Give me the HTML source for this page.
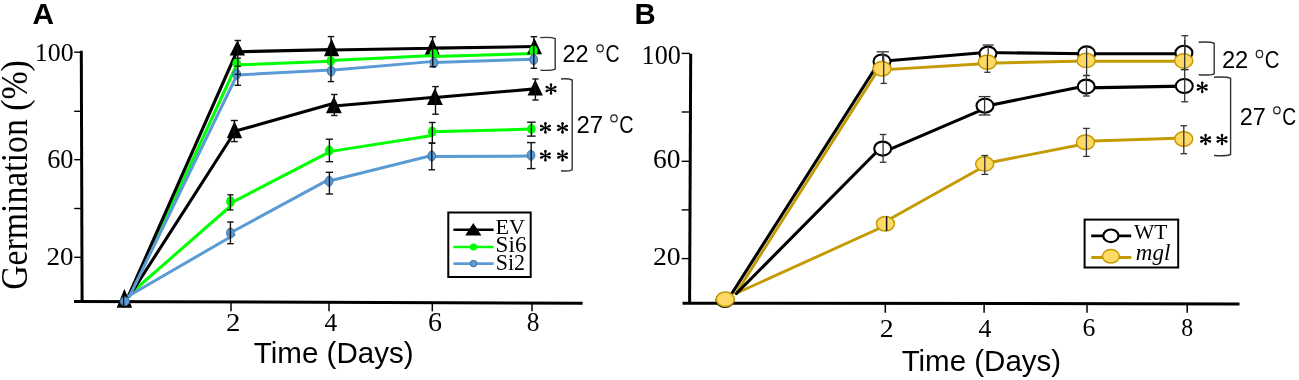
<!DOCTYPE html>
<html><head><meta charset="utf-8"><style>
html,body{margin:0;padding:0;background:#fff;}
body{width:1299px;height:380px;overflow:hidden;}
svg{display:block;will-change:transform;}
</style></head><body>
<svg width="1299" height="380" viewBox="0 0 1299 380">
<rect width="1299" height="380" fill="#fff"/>
<text transform="translate(27,289.75) rotate(-90)" x="0" y="0" font-family="'Liberation Serif', serif" font-size="36.98" textLength="229.61" lengthAdjust="spacingAndGlyphs" fill="#000">Germination (%)</text>
<text x="32.45" y="24.00" font-family="'Liberation Sans', sans-serif" font-size="30.25" font-weight="bold" textLength="21.56" lengthAdjust="spacingAndGlyphs" fill="#000" >A</text>
<line x1="81.3" y1="50.8" x2="82.1" y2="302.5" stroke="#000" stroke-width="3" stroke-linecap="butt"/>
<line x1="74" y1="301.5" x2="582.6" y2="303.2" stroke="#000" stroke-width="3" stroke-linecap="butt"/>
<line x1="74.2" y1="52.2" x2="81" y2="52.2" stroke="#000" stroke-width="1.4" stroke-linecap="butt"/>
<line x1="74.2" y1="111.3" x2="81" y2="111.3" stroke="#000" stroke-width="1.4" stroke-linecap="butt"/>
<line x1="74.2" y1="159.7" x2="81" y2="159.7" stroke="#000" stroke-width="1.4" stroke-linecap="butt"/>
<line x1="74.2" y1="208.5" x2="81" y2="208.5" stroke="#000" stroke-width="1.4" stroke-linecap="butt"/>
<line x1="74.2" y1="257.3" x2="81" y2="257.3" stroke="#000" stroke-width="1.4" stroke-linecap="butt"/>
<line x1="231.0" y1="302.5" x2="231.0" y2="311.3" stroke="#000" stroke-width="1.5" stroke-linecap="butt"/>
<line x1="329.0" y1="302.5" x2="329.0" y2="311.3" stroke="#000" stroke-width="1.5" stroke-linecap="butt"/>
<line x1="432.3" y1="302.5" x2="432.3" y2="311.3" stroke="#000" stroke-width="1.5" stroke-linecap="butt"/>
<line x1="532.0" y1="302.5" x2="532.0" y2="311.3" stroke="#000" stroke-width="1.5" stroke-linecap="butt"/>
<text x="34.84" y="61.20" font-family="'Liberation Serif', serif" font-size="25.56" textLength="38.73" lengthAdjust="spacingAndGlyphs" fill="#000" >100</text>
<text x="47.18" y="167.60" font-family="'Liberation Serif', serif" font-size="26.32" textLength="26.30" lengthAdjust="spacingAndGlyphs" fill="#000" >60</text>
<text x="46.55" y="265.00" font-family="'Liberation Serif', serif" font-size="25.71" textLength="26.96" lengthAdjust="spacingAndGlyphs" fill="#000" >20</text>
<text x="226.08" y="330.90" font-family="'Liberation Serif', serif" font-size="25.96" textLength="14.41" lengthAdjust="spacingAndGlyphs" fill="#000" >2</text>
<text x="324.49" y="330.90" font-family="'Liberation Serif', serif" font-size="26.16" textLength="12.69" lengthAdjust="spacingAndGlyphs" fill="#000" >4</text>
<text x="428.11" y="330.60" font-family="'Liberation Serif', serif" font-size="26.57" textLength="14.04" lengthAdjust="spacingAndGlyphs" fill="#000" >6</text>
<text x="526.85" y="330.60" font-family="'Liberation Serif', serif" font-size="26.47" textLength="12.71" lengthAdjust="spacingAndGlyphs" fill="#000" >8</text>
<text x="253.84" y="363.30" font-family="'Liberation Sans', sans-serif" font-size="29.66" textLength="159.73" lengthAdjust="spacingAndGlyphs" fill="#000" >Time (Days)</text>
<path d="M129.74,296.00 L236.99,64.00 M237.00,65.02 L331.00,61.26 M331.00,60.48 L434.00,55.48 M434.00,56.48 L534.00,53.48 " fill="none" stroke="#00ff00" stroke-width="3" stroke-linecap="round" stroke-linejoin="round"/>
<path d="M127.70,296.00 L232.93,204.00 M230.50,203.22 L329.10,152.09 M329.10,151.64 L432.20,135.49 M432.20,131.87 L531.40,129.02 " fill="none" stroke="#00ff00" stroke-width="3" stroke-linecap="round" stroke-linejoin="round"/>
<path d="M128.51,296.00 L236.85,51.50 M237.50,51.77 L331.60,49.64 M331.60,49.93 L433.00,48.19 M433.00,48.17 L534.50,46.57 " fill="none" stroke="#000" stroke-width="3.1" stroke-linecap="round" stroke-linejoin="round"/>
<path d="M129.46,296.00 L235.32,131.00 M234.50,131.36 L334.00,103.35 M334.00,106.03 L435.00,97.18 M435.00,97.57 L535.00,88.90 " fill="none" stroke="#000" stroke-width="3.1" stroke-linecap="round" stroke-linejoin="round"/>
<path d="M129.61,296.00 L237.26,74.50 M237.00,74.93 L331.00,69.91 M331.00,70.20 L434.00,61.37 M434.00,62.40 L534.00,59.26 " fill="none" stroke="#5b9bd5" stroke-width="3" stroke-linecap="round" stroke-linejoin="round"/>
<path d="M128.55,296.00 L233.85,235.00 M230.50,232.73 L329.10,179.37 M329.10,180.95 L431.70,155.55 M431.70,156.45 L531.00,156.08 " fill="none" stroke="#5b9bd5" stroke-width="3" stroke-linecap="round" stroke-linejoin="round"/>
<polygon points="124.4,288.8 132.1,307.8 116.7,307.8" fill="#000"/>
<polygon points="237.4,40.3 245,55.4 229.7,55.4" fill="#000"/>
<polygon points="331.6,38.6 339.2,56.3 324,56.3" fill="#000"/>
<polygon points="432.4,37.9 439.7,54.5 424.9,54.5" fill="#000"/>
<polygon points="534.3,38.1 542,54.3 527,54.3" fill="#000"/>
<polygon points="234.5,121 242.1,138.2 226.8,138.2" fill="#000"/>
<polygon points="333.9,96.2 341.8,113.3 326,113.3" fill="#000"/>
<polygon points="434.9,87.9 442.8,105 427,105" fill="#000"/>
<polygon points="535.2,79.5 542.9,95.6 527.6,95.6" fill="#000"/>
<ellipse cx="236.7" cy="63.3" rx="4.3" ry="5.1" fill="#00ff00" stroke="none" stroke-width="0"/>
<ellipse cx="330.7" cy="61" rx="4.3" ry="5.1" fill="#00ff00" stroke="none" stroke-width="0"/>
<ellipse cx="433.8" cy="54" rx="4.3" ry="5.1" fill="#00ff00" stroke="none" stroke-width="0"/>
<ellipse cx="533.5" cy="50.7" rx="4.3" ry="5.1" fill="#00ff00" stroke="none" stroke-width="0"/>
<ellipse cx="230.4" cy="201.3" rx="4.3" ry="5.1" fill="#00ff00" stroke="none" stroke-width="0"/>
<ellipse cx="329.2" cy="150.7" rx="4.3" ry="5.1" fill="#00ff00" stroke="none" stroke-width="0"/>
<ellipse cx="432.2" cy="131.7" rx="4.3" ry="5.1" fill="#00ff00" stroke="none" stroke-width="0"/>
<ellipse cx="531.4" cy="129" rx="4.3" ry="5.1" fill="#00ff00" stroke="none" stroke-width="0"/>
<ellipse cx="236.7" cy="74.2" rx="3.9" ry="5.0" fill="#5b9bd5" stroke="#41719c" stroke-width="0.9"/>
<ellipse cx="331.2" cy="71" rx="3.9" ry="5.0" fill="#5b9bd5" stroke="#41719c" stroke-width="0.9"/>
<ellipse cx="434" cy="62.7" rx="3.9" ry="5.0" fill="#5b9bd5" stroke="#41719c" stroke-width="0.9"/>
<ellipse cx="533.7" cy="59.6" rx="3.9" ry="5.0" fill="#5b9bd5" stroke="#41719c" stroke-width="0.9"/>
<ellipse cx="230.4" cy="233" rx="3.9" ry="5.0" fill="#5b9bd5" stroke="#41719c" stroke-width="0.9"/>
<ellipse cx="329.1" cy="181.2" rx="3.9" ry="5.0" fill="#5b9bd5" stroke="#41719c" stroke-width="0.9"/>
<ellipse cx="431.7" cy="156" rx="3.9" ry="5.0" fill="#5b9bd5" stroke="#41719c" stroke-width="0.9"/>
<ellipse cx="531" cy="155.2" rx="3.9" ry="5.0" fill="#5b9bd5" stroke="#41719c" stroke-width="0.9"/>
<ellipse cx="124.8" cy="301.3" rx="4.6" ry="4.4" fill="#5b9bd5" stroke="#41719c" stroke-width="0.9"/>
<line x1="123.6" y1="296" x2="123.6" y2="308" stroke="#111" stroke-width="1.4" stroke-linecap="butt"/>
<line x1="237.8" y1="40.5" x2="237.8" y2="85.3" stroke="#111" stroke-width="1.4" stroke-linecap="butt"/>
<line x1="234.55" y1="40.5" x2="241.05" y2="40.5" stroke="#111" stroke-width="1.4" stroke-linecap="butt"/>
<line x1="234.55" y1="85.3" x2="241.05" y2="85.3" stroke="#111" stroke-width="1.4" stroke-linecap="butt"/>
<line x1="234.7" y1="58.2" x2="240.9" y2="58.2" stroke="#1a1a1a" stroke-width="1.4" stroke-linecap="butt"/>
<line x1="234.7" y1="66.3" x2="240.9" y2="66.3" stroke="#1a1a1a" stroke-width="1.4" stroke-linecap="butt"/>
<line x1="234.7" y1="74.4" x2="240.9" y2="74.4" stroke="#1a1a1a" stroke-width="1.4" stroke-linecap="butt"/>
<line x1="331" y1="36.6" x2="331" y2="81.6" stroke="#111" stroke-width="1.4" stroke-linecap="butt"/>
<line x1="327.75" y1="36.6" x2="334.25" y2="36.6" stroke="#111" stroke-width="1.4" stroke-linecap="butt"/>
<line x1="327.75" y1="81.6" x2="334.25" y2="81.6" stroke="#111" stroke-width="1.4" stroke-linecap="butt"/>
<line x1="432.7" y1="36.8" x2="432.7" y2="66.7" stroke="#111" stroke-width="1.4" stroke-linecap="butt"/>
<line x1="429.45" y1="36.8" x2="435.95" y2="36.8" stroke="#111" stroke-width="1.4" stroke-linecap="butt"/>
<line x1="429.45" y1="66.7" x2="435.95" y2="66.7" stroke="#111" stroke-width="1.4" stroke-linecap="butt"/>
<line x1="533.8" y1="36.7" x2="533.8" y2="68.3" stroke="#111" stroke-width="1.4" stroke-linecap="butt"/>
<line x1="530.55" y1="36.7" x2="537.05" y2="36.7" stroke="#111" stroke-width="1.4" stroke-linecap="butt"/>
<line x1="530.55" y1="68.3" x2="537.05" y2="68.3" stroke="#111" stroke-width="1.4" stroke-linecap="butt"/>
<line x1="234.3" y1="120.5" x2="234.3" y2="141.6" stroke="#111" stroke-width="1.4" stroke-linecap="butt"/>
<line x1="230.8" y1="120.5" x2="237.8" y2="120.5" stroke="#111" stroke-width="1.4" stroke-linecap="butt"/>
<line x1="230.8" y1="141.6" x2="237.8" y2="141.6" stroke="#111" stroke-width="1.4" stroke-linecap="butt"/>
<line x1="334.3" y1="94.5" x2="334.3" y2="115.5" stroke="#111" stroke-width="1.4" stroke-linecap="butt"/>
<line x1="331.05" y1="94.5" x2="337.55" y2="94.5" stroke="#111" stroke-width="1.4" stroke-linecap="butt"/>
<line x1="331.05" y1="115.5" x2="337.55" y2="115.5" stroke="#111" stroke-width="1.4" stroke-linecap="butt"/>
<line x1="435.5" y1="86.6" x2="435.5" y2="114.2" stroke="#111" stroke-width="1.4" stroke-linecap="butt"/>
<line x1="432.25" y1="86.6" x2="438.75" y2="86.6" stroke="#111" stroke-width="1.4" stroke-linecap="butt"/>
<line x1="432.25" y1="114.2" x2="438.75" y2="114.2" stroke="#111" stroke-width="1.4" stroke-linecap="butt"/>
<line x1="535.4" y1="79" x2="535.4" y2="100" stroke="#111" stroke-width="1.4" stroke-linecap="butt"/>
<line x1="532.25" y1="79" x2="538.55" y2="79" stroke="#111" stroke-width="1.4" stroke-linecap="butt"/>
<line x1="532.25" y1="100" x2="538.55" y2="100" stroke="#111" stroke-width="1.4" stroke-linecap="butt"/>
<line x1="230.4" y1="194.8" x2="230.4" y2="209.9" stroke="#111" stroke-width="1.4" stroke-linecap="butt"/>
<line x1="227.4" y1="194.8" x2="233.4" y2="194.8" stroke="#111" stroke-width="1.4" stroke-linecap="butt"/>
<line x1="227.4" y1="209.9" x2="233.4" y2="209.9" stroke="#111" stroke-width="1.4" stroke-linecap="butt"/>
<line x1="230.4" y1="222" x2="230.4" y2="243.7" stroke="#111" stroke-width="1.4" stroke-linecap="butt"/>
<line x1="227.15" y1="222" x2="233.65" y2="222" stroke="#111" stroke-width="1.4" stroke-linecap="butt"/>
<line x1="227.15" y1="243.7" x2="233.65" y2="243.7" stroke="#111" stroke-width="1.4" stroke-linecap="butt"/>
<line x1="329.4" y1="139.2" x2="329.4" y2="161.7" stroke="#111" stroke-width="1.4" stroke-linecap="butt"/>
<line x1="325.75" y1="139.2" x2="333.04999999999995" y2="139.2" stroke="#111" stroke-width="1.4" stroke-linecap="butt"/>
<line x1="325.75" y1="161.7" x2="333.04999999999995" y2="161.7" stroke="#111" stroke-width="1.4" stroke-linecap="butt"/>
<line x1="329.4" y1="172.3" x2="329.4" y2="194" stroke="#111" stroke-width="1.4" stroke-linecap="butt"/>
<line x1="325.75" y1="172.3" x2="333.04999999999995" y2="172.3" stroke="#111" stroke-width="1.4" stroke-linecap="butt"/>
<line x1="325.75" y1="194" x2="333.04999999999995" y2="194" stroke="#111" stroke-width="1.4" stroke-linecap="butt"/>
<line x1="432.3" y1="122.5" x2="432.3" y2="143.1" stroke="#111" stroke-width="1.4" stroke-linecap="butt"/>
<line x1="429.05" y1="122.5" x2="435.55" y2="122.5" stroke="#111" stroke-width="1.4" stroke-linecap="butt"/>
<line x1="429.05" y1="143.1" x2="435.55" y2="143.1" stroke="#111" stroke-width="1.4" stroke-linecap="butt"/>
<line x1="431.8" y1="143.1" x2="431.8" y2="169.8" stroke="#111" stroke-width="1.4" stroke-linecap="butt"/>
<line x1="428.55" y1="143.1" x2="435.05" y2="143.1" stroke="#111" stroke-width="1.4" stroke-linecap="butt"/>
<line x1="428.55" y1="169.8" x2="435.05" y2="169.8" stroke="#111" stroke-width="1.4" stroke-linecap="butt"/>
<line x1="531.4" y1="122.2" x2="531.4" y2="136.1" stroke="#111" stroke-width="1.4" stroke-linecap="butt"/>
<line x1="527.15" y1="122.2" x2="535.65" y2="122.2" stroke="#111" stroke-width="1.4" stroke-linecap="butt"/>
<line x1="527.15" y1="136.1" x2="535.65" y2="136.1" stroke="#111" stroke-width="1.4" stroke-linecap="butt"/>
<line x1="531.2" y1="142.6" x2="531.2" y2="168.6" stroke="#111" stroke-width="1.4" stroke-linecap="butt"/>
<line x1="526.95" y1="142.6" x2="535.45" y2="142.6" stroke="#111" stroke-width="1.4" stroke-linecap="butt"/>
<line x1="526.95" y1="168.6" x2="535.45" y2="168.6" stroke="#111" stroke-width="1.4" stroke-linecap="butt"/>
<path d="M540.3,37.6 Q551.2,36.800000000000004 555.2,38.6 L555.2,69.1 Q551.2,70.89999999999999 540.3,70.1" fill="none" stroke="#333" stroke-width="1.4"/>
<path d="M561,79 Q568.2,78.2 572.2,80 L572.2,169.8 Q568.2,171.60000000000002 561,170.8" fill="none" stroke="#333" stroke-width="1.4"/>
<circle cx="551.00" cy="84.40" r="1.20" fill="#000"/>
<circle cx="551.00" cy="93.60" r="1.20" fill="#000"/>
<circle cx="555.30" cy="86.99" r="1.20" fill="#000"/>
<circle cx="546.70" cy="86.99" r="1.20" fill="#000"/>
<circle cx="555.30" cy="91.01" r="1.20" fill="#000"/>
<circle cx="546.70" cy="91.01" r="1.20" fill="#000"/>
<path d="M550.55,89.00 L549.80,84.40 L552.20,84.40 L551.45,89.00Z M551.45,89.00 L552.20,93.60 L549.80,93.60 L550.55,89.00Z M550.81,88.59 L554.80,85.90 L555.81,88.08 L551.19,89.41Z M550.81,89.41 L546.19,88.08 L547.20,85.90 L551.19,88.59Z M551.19,88.59 L555.81,89.92 L554.80,92.10 L550.81,89.41Z M551.19,89.41 L547.20,92.10 L546.19,89.92 L550.81,88.59Z " fill="#000"/>
<circle cx="551" cy="89" r="0.90" fill="#000"/>
<circle cx="545.40" cy="123.30" r="1.20" fill="#000"/>
<circle cx="545.40" cy="132.50" r="1.20" fill="#000"/>
<circle cx="549.70" cy="125.89" r="1.20" fill="#000"/>
<circle cx="541.10" cy="125.89" r="1.20" fill="#000"/>
<circle cx="549.70" cy="129.91" r="1.20" fill="#000"/>
<circle cx="541.10" cy="129.91" r="1.20" fill="#000"/>
<path d="M544.95,127.90 L544.20,123.30 L546.60,123.30 L545.85,127.90Z M545.85,127.90 L546.60,132.50 L544.20,132.50 L544.95,127.90Z M545.21,127.49 L549.20,124.80 L550.21,126.98 L545.59,128.31Z M545.21,128.31 L540.59,126.98 L541.60,124.80 L545.59,127.49Z M545.59,127.49 L550.21,128.82 L549.20,131.00 L545.21,128.31Z M545.59,128.31 L541.60,131.00 L540.59,128.82 L545.21,127.49Z " fill="#000"/>
<circle cx="545.4" cy="127.9" r="0.90" fill="#000"/>
<circle cx="562.50" cy="123.30" r="1.20" fill="#000"/>
<circle cx="562.50" cy="132.50" r="1.20" fill="#000"/>
<circle cx="566.80" cy="125.89" r="1.20" fill="#000"/>
<circle cx="558.20" cy="125.89" r="1.20" fill="#000"/>
<circle cx="566.80" cy="129.91" r="1.20" fill="#000"/>
<circle cx="558.20" cy="129.91" r="1.20" fill="#000"/>
<path d="M562.05,127.90 L561.30,123.30 L563.70,123.30 L562.95,127.90Z M562.95,127.90 L563.70,132.50 L561.30,132.50 L562.05,127.90Z M562.31,127.49 L566.30,124.80 L567.31,126.98 L562.69,128.31Z M562.31,128.31 L557.69,126.98 L558.70,124.80 L562.69,127.49Z M562.69,127.49 L567.31,128.82 L566.30,131.00 L562.31,128.31Z M562.69,128.31 L558.70,131.00 L557.69,128.82 L562.31,127.49Z " fill="#000"/>
<circle cx="562.5" cy="127.9" r="0.90" fill="#000"/>
<circle cx="545.40" cy="151.00" r="1.20" fill="#000"/>
<circle cx="545.40" cy="160.20" r="1.20" fill="#000"/>
<circle cx="549.70" cy="153.59" r="1.20" fill="#000"/>
<circle cx="541.10" cy="153.59" r="1.20" fill="#000"/>
<circle cx="549.70" cy="157.61" r="1.20" fill="#000"/>
<circle cx="541.10" cy="157.61" r="1.20" fill="#000"/>
<path d="M544.95,155.60 L544.20,151.00 L546.60,151.00 L545.85,155.60Z M545.85,155.60 L546.60,160.20 L544.20,160.20 L544.95,155.60Z M545.21,155.19 L549.20,152.50 L550.21,154.68 L545.59,156.01Z M545.21,156.01 L540.59,154.68 L541.60,152.50 L545.59,155.19Z M545.59,155.19 L550.21,156.52 L549.20,158.70 L545.21,156.01Z M545.59,156.01 L541.60,158.70 L540.59,156.52 L545.21,155.19Z " fill="#000"/>
<circle cx="545.4" cy="155.6" r="0.90" fill="#000"/>
<circle cx="562.50" cy="151.00" r="1.20" fill="#000"/>
<circle cx="562.50" cy="160.20" r="1.20" fill="#000"/>
<circle cx="566.80" cy="153.59" r="1.20" fill="#000"/>
<circle cx="558.20" cy="153.59" r="1.20" fill="#000"/>
<circle cx="566.80" cy="157.61" r="1.20" fill="#000"/>
<circle cx="558.20" cy="157.61" r="1.20" fill="#000"/>
<path d="M562.05,155.60 L561.30,151.00 L563.70,151.00 L562.95,155.60Z M562.95,155.60 L563.70,160.20 L561.30,160.20 L562.05,155.60Z M562.31,155.19 L566.30,152.50 L567.31,154.68 L562.69,156.01Z M562.31,156.01 L557.69,154.68 L558.70,152.50 L562.69,155.19Z M562.69,155.19 L567.31,156.52 L566.30,158.70 L562.31,156.01Z M562.69,156.01 L558.70,158.70 L557.69,156.52 L562.31,155.19Z " fill="#000"/>
<circle cx="562.5" cy="155.6" r="0.90" fill="#000"/>
<rect x="448.3" y="212.5" width="82.4" height="64.5" fill="#fff" stroke="#000" stroke-width="2"/>
<line x1="453.4" y1="229.7" x2="493.6" y2="229.7" stroke="#000" stroke-width="2.6" stroke-linecap="butt"/>
<polygon points="473.3,223.1 481.4,235.6 465.2,235.6" fill="#000"/>
<line x1="453.4" y1="247" x2="493.6" y2="247" stroke="#00ff00" stroke-width="2.6" stroke-linecap="butt"/>
<ellipse cx="473.5" cy="247" rx="3.6" ry="3.6" fill="#00ff00" stroke="none" stroke-width="0"/>
<line x1="453.4" y1="263.6" x2="493.6" y2="263.6" stroke="#5b9bd5" stroke-width="2.6" stroke-linecap="butt"/>
<ellipse cx="473.5" cy="263.6" rx="3.3" ry="3.3" fill="#5b9bd5" stroke="#41719c" stroke-width="1"/>
<text x="495.59" y="233.60" font-family="'Liberation Serif', serif" font-size="21.98" textLength="29.50" lengthAdjust="spacingAndGlyphs" fill="#000" >EV</text>
<text x="495.64" y="252.20" font-family="'Liberation Serif', serif" font-size="22.19" textLength="30.83" lengthAdjust="spacingAndGlyphs" fill="#000" >Si6</text>
<text x="495.72" y="270.00" font-family="'Liberation Serif', serif" font-size="22.19" textLength="29.27" lengthAdjust="spacingAndGlyphs" fill="#000" >Si2</text>
<text x="634.52" y="24.00" font-family="'Liberation Sans', sans-serif" font-size="29.96" font-weight="bold" textLength="21.19" lengthAdjust="spacingAndGlyphs" fill="#000" >B</text>
<line x1="690.7" y1="53.8" x2="689.6" y2="303" stroke="#000" stroke-width="3" stroke-linecap="butt"/>
<line x1="682.5" y1="303.2" x2="1239.5" y2="303.9" stroke="#000" stroke-width="3" stroke-linecap="butt"/>
<line x1="681.7" y1="53.4" x2="690" y2="53.4" stroke="#000" stroke-width="1.4" stroke-linecap="butt"/>
<line x1="681.7" y1="112" x2="690" y2="112" stroke="#000" stroke-width="1.4" stroke-linecap="butt"/>
<line x1="681.7" y1="161.3" x2="690" y2="161.3" stroke="#000" stroke-width="1.4" stroke-linecap="butt"/>
<line x1="681.7" y1="209.9" x2="690" y2="209.9" stroke="#000" stroke-width="1.4" stroke-linecap="butt"/>
<line x1="681.7" y1="258.6" x2="690" y2="258.6" stroke="#000" stroke-width="1.4" stroke-linecap="butt"/>
<line x1="885.3" y1="304" x2="885.3" y2="312.8" stroke="#000" stroke-width="1.5" stroke-linecap="butt"/>
<line x1="984.1" y1="304" x2="984.1" y2="312.8" stroke="#000" stroke-width="1.5" stroke-linecap="butt"/>
<line x1="1087" y1="304" x2="1087" y2="312.8" stroke="#000" stroke-width="1.5" stroke-linecap="butt"/>
<line x1="1187.2" y1="304" x2="1187.2" y2="312.8" stroke="#000" stroke-width="1.5" stroke-linecap="butt"/>
<text x="641.61" y="63.50" font-family="'Liberation Serif', serif" font-size="26.47" textLength="39.27" lengthAdjust="spacingAndGlyphs" fill="#000" >100</text>
<text x="653.13" y="168.40" font-family="'Liberation Serif', serif" font-size="26.32" textLength="27.50" lengthAdjust="spacingAndGlyphs" fill="#000" >60</text>
<text x="652.92" y="265.00" font-family="'Liberation Serif', serif" font-size="25.71" textLength="27.72" lengthAdjust="spacingAndGlyphs" fill="#000" >20</text>
<text x="879.82" y="336.70" font-family="'Liberation Serif', serif" font-size="24.75" textLength="13.91" lengthAdjust="spacingAndGlyphs" fill="#000" >2</text>
<text x="978.48" y="336.70" font-family="'Liberation Serif', serif" font-size="24.94" textLength="12.90" lengthAdjust="spacingAndGlyphs" fill="#000" >4</text>
<text x="1082.51" y="336.20" font-family="'Liberation Serif', serif" font-size="24.75" textLength="12.87" lengthAdjust="spacingAndGlyphs" fill="#000" >6</text>
<text x="1181.31" y="336.20" font-family="'Liberation Serif', serif" font-size="24.66" textLength="11.88" lengthAdjust="spacingAndGlyphs" fill="#000" >8</text>
<text x="901.64" y="371.20" font-family="'Liberation Sans', sans-serif" font-size="30.34" textLength="159.53" lengthAdjust="spacingAndGlyphs" fill="#000" >Time (Days)</text>
<path d="M735.85,293.50 L878.07,70.00 M882.00,69.88 L987.30,63.56 M987.30,63.22 L1086.00,61.00 M1086.00,61.20 L1184.00,61.20 " fill="none" stroke="#c49a02" stroke-width="2.9" stroke-linecap="round" stroke-linejoin="round"/>
<path d="M735.81,293.50 L889.56,223.80 M885.40,221.58 L984.70,165.97 M984.70,163.49 L1085.40,143.79 M1085.40,141.30 L1183.70,137.93 " fill="none" stroke="#c49a02" stroke-width="2.9" stroke-linecap="round" stroke-linejoin="round"/>
<path d="M731.85,293.50 L879.48,61.50 M882.00,61.31 L988.00,52.29 M988.00,52.56 L1086.50,53.79 M1086.50,53.80 L1184.00,53.80 " fill="none" stroke="#000" stroke-width="3.1" stroke-linecap="round" stroke-linejoin="round"/>
<path d="M736.44,293.50 L880.50,148.00 M882.70,152.38 L985.30,108.43 M985.30,106.17 L1086.20,85.80 M1086.20,87.84 L1184.30,86.14 " fill="none" stroke="#000" stroke-width="3.1" stroke-linecap="round" stroke-linejoin="round"/>
<ellipse cx="725" cy="300" rx="8.5" ry="7.0" fill="#fff" stroke="#000" stroke-width="2.1"/>
<ellipse cx="882" cy="61.5" rx="8.5" ry="7.0" fill="#fff" stroke="#000" stroke-width="2.1"/>
<ellipse cx="987.9" cy="53.6" rx="8.5" ry="7.0" fill="#fff" stroke="#000" stroke-width="2.1"/>
<ellipse cx="1086.6" cy="53.4" rx="8.5" ry="7.0" fill="#fff" stroke="#000" stroke-width="2.1"/>
<ellipse cx="1183.9" cy="52.8" rx="8.5" ry="7.0" fill="#fff" stroke="#000" stroke-width="2.1"/>
<ellipse cx="882.7" cy="148.6" rx="8.5" ry="7.0" fill="#fff" stroke="#000" stroke-width="2.1"/>
<ellipse cx="985" cy="105.7" rx="8.5" ry="7.0" fill="#fff" stroke="#000" stroke-width="2.1"/>
<ellipse cx="1086.2" cy="86.6" rx="8.5" ry="7.0" fill="#fff" stroke="#000" stroke-width="2.1"/>
<ellipse cx="1184.3" cy="86" rx="8.5" ry="7.0" fill="#fff" stroke="#000" stroke-width="2.1"/>
<line x1="882.7" y1="51.8" x2="882.7" y2="70" stroke="#333" stroke-width="1.3" stroke-linecap="butt"/>
<line x1="876.5500000000001" y1="51.8" x2="888.85" y2="51.8" stroke="#333" stroke-width="1.3" stroke-linecap="butt"/>
<line x1="988.2" y1="45" x2="988.2" y2="62" stroke="#333" stroke-width="1.3" stroke-linecap="butt"/>
<line x1="982.7" y1="45" x2="993.7" y2="45" stroke="#333" stroke-width="1.3" stroke-linecap="butt"/>
<line x1="1184.9" y1="35.7" x2="1184.9" y2="60" stroke="#333" stroke-width="1.3" stroke-linecap="butt"/>
<line x1="1181.5500000000002" y1="35.7" x2="1188.25" y2="35.7" stroke="#333" stroke-width="1.3" stroke-linecap="butt"/>
<ellipse cx="725.3" cy="299.3" rx="9.0" ry="7.2" fill="#ffd966" stroke="#c49a02" stroke-width="1.5"/>
<ellipse cx="882" cy="68.7" rx="9.0" ry="7.2" fill="#ffd966" stroke="#c49a02" stroke-width="1.5"/>
<ellipse cx="987.3" cy="62.1" rx="9.0" ry="7.2" fill="#ffd966" stroke="#c49a02" stroke-width="1.5"/>
<ellipse cx="1086.2" cy="60.4" rx="9.0" ry="7.2" fill="#ffd966" stroke="#c49a02" stroke-width="1.5"/>
<ellipse cx="1183.7" cy="60.9" rx="9.0" ry="7.2" fill="#ffd966" stroke="#c49a02" stroke-width="1.5"/>
<ellipse cx="885.4" cy="223.8" rx="9.0" ry="7.2" fill="#ffd966" stroke="#c49a02" stroke-width="1.5"/>
<ellipse cx="984.7" cy="163.9" rx="9.0" ry="7.2" fill="#ffd966" stroke="#c49a02" stroke-width="1.5"/>
<ellipse cx="1085.5" cy="142.2" rx="9.0" ry="7.2" fill="#ffd966" stroke="#c49a02" stroke-width="1.5"/>
<ellipse cx="1183.7" cy="139" rx="9.0" ry="7.2" fill="#ffd966" stroke="#c49a02" stroke-width="1.5"/>
<line x1="883.7" y1="55" x2="883.7" y2="83.4" stroke="#333" stroke-width="1.3" stroke-linecap="butt"/>
<line x1="880.5500000000001" y1="55" x2="886.85" y2="55" stroke="#333" stroke-width="1.3" stroke-linecap="butt"/>
<line x1="880.5500000000001" y1="83.4" x2="886.85" y2="83.4" stroke="#333" stroke-width="1.3" stroke-linecap="butt"/>
<line x1="987.4" y1="55" x2="987.4" y2="72.3" stroke="#333" stroke-width="1.3" stroke-linecap="butt"/>
<line x1="984.4" y1="72.3" x2="990.4" y2="72.3" stroke="#333" stroke-width="1.3" stroke-linecap="butt"/>
<line x1="1086.6" y1="46" x2="1086.6" y2="75.5" stroke="#333" stroke-width="1.3" stroke-linecap="butt"/>
<line x1="1083.25" y1="75.5" x2="1089.9499999999998" y2="75.5" stroke="#333" stroke-width="1.3" stroke-linecap="butt"/>
<line x1="1184.7" y1="40" x2="1184.7" y2="69.6" stroke="#333" stroke-width="1.3" stroke-linecap="butt"/>
<line x1="1180.7" y1="69.6" x2="1188.7" y2="69.6" stroke="#333" stroke-width="1.3" stroke-linecap="butt"/>
<line x1="883.1" y1="134.5" x2="883.1" y2="162.3" stroke="#333" stroke-width="1.3" stroke-linecap="butt"/>
<line x1="879.8000000000001" y1="134.5" x2="886.4" y2="134.5" stroke="#333" stroke-width="1.3" stroke-linecap="butt"/>
<line x1="879.8000000000001" y1="162.3" x2="886.4" y2="162.3" stroke="#333" stroke-width="1.3" stroke-linecap="butt"/>
<line x1="984.6" y1="96.6" x2="984.6" y2="115" stroke="#333" stroke-width="1.3" stroke-linecap="butt"/>
<line x1="978.7" y1="96.6" x2="990.5" y2="96.6" stroke="#333" stroke-width="1.3" stroke-linecap="butt"/>
<line x1="978.7" y1="115" x2="990.5" y2="115" stroke="#333" stroke-width="1.3" stroke-linecap="butt"/>
<line x1="1086.4" y1="75.5" x2="1086.4" y2="96" stroke="#333" stroke-width="1.3" stroke-linecap="butt"/>
<line x1="1083.0500000000002" y1="75.5" x2="1089.75" y2="75.5" stroke="#333" stroke-width="1.3" stroke-linecap="butt"/>
<line x1="1083.0500000000002" y1="96" x2="1089.75" y2="96" stroke="#333" stroke-width="1.3" stroke-linecap="butt"/>
<line x1="1184.7" y1="69.5" x2="1184.7" y2="101.8" stroke="#333" stroke-width="1.3" stroke-linecap="butt"/>
<line x1="1181.2" y1="69.5" x2="1188.2" y2="69.5" stroke="#333" stroke-width="1.3" stroke-linecap="butt"/>
<line x1="1181.2" y1="101.8" x2="1188.2" y2="101.8" stroke="#333" stroke-width="1.3" stroke-linecap="butt"/>
<line x1="886.6" y1="216.3" x2="886.6" y2="231" stroke="#111" stroke-width="1.5" stroke-linecap="butt"/>
<line x1="984.8" y1="155.5" x2="984.8" y2="174.4" stroke="#333" stroke-width="1.3" stroke-linecap="butt"/>
<line x1="981.4499999999999" y1="155.5" x2="988.15" y2="155.5" stroke="#333" stroke-width="1.3" stroke-linecap="butt"/>
<line x1="981.4499999999999" y1="174.4" x2="988.15" y2="174.4" stroke="#333" stroke-width="1.3" stroke-linecap="butt"/>
<line x1="1086.4" y1="128.4" x2="1086.4" y2="156.4" stroke="#333" stroke-width="1.3" stroke-linecap="butt"/>
<line x1="1083.1000000000001" y1="128.4" x2="1089.7" y2="128.4" stroke="#333" stroke-width="1.3" stroke-linecap="butt"/>
<line x1="1083.1000000000001" y1="156.4" x2="1089.7" y2="156.4" stroke="#333" stroke-width="1.3" stroke-linecap="butt"/>
<line x1="1183.8" y1="125.8" x2="1183.8" y2="153.7" stroke="#333" stroke-width="1.3" stroke-linecap="butt"/>
<line x1="1180.5" y1="125.8" x2="1187.1" y2="125.8" stroke="#333" stroke-width="1.3" stroke-linecap="butt"/>
<line x1="1180.5" y1="153.7" x2="1187.1" y2="153.7" stroke="#333" stroke-width="1.3" stroke-linecap="butt"/>
<path d="M1198.7,42.3 Q1210.2,41.5 1214.2,43.3 L1214.2,73.8 Q1210.2,75.6 1198.7,74.8" fill="none" stroke="#333" stroke-width="1.4"/>
<path d="M1214,77.3 Q1226.6,76.5 1230.6,78.3 L1230.6,154.5 Q1226.6,156.3 1214,155.5" fill="none" stroke="#333" stroke-width="1.4"/>
<circle cx="1202.20" cy="82.80" r="1.20" fill="#000"/>
<circle cx="1202.20" cy="92.00" r="1.20" fill="#000"/>
<circle cx="1206.50" cy="85.39" r="1.20" fill="#000"/>
<circle cx="1197.90" cy="85.39" r="1.20" fill="#000"/>
<circle cx="1206.50" cy="89.41" r="1.20" fill="#000"/>
<circle cx="1197.90" cy="89.41" r="1.20" fill="#000"/>
<path d="M1201.75,87.40 L1201.00,82.80 L1203.40,82.80 L1202.65,87.40Z M1202.65,87.40 L1203.40,92.00 L1201.00,92.00 L1201.75,87.40Z M1202.01,86.99 L1206.00,84.30 L1207.01,86.48 L1202.39,87.81Z M1202.01,87.81 L1197.39,86.48 L1198.40,84.30 L1202.39,86.99Z M1202.39,86.99 L1207.01,88.32 L1206.00,90.50 L1202.01,87.81Z M1202.39,87.81 L1198.40,90.50 L1197.39,88.32 L1202.01,86.99Z " fill="#000"/>
<circle cx="1202.2" cy="87.4" r="0.90" fill="#000"/>
<circle cx="1205.60" cy="134.90" r="1.20" fill="#000"/>
<circle cx="1205.60" cy="144.10" r="1.20" fill="#000"/>
<circle cx="1209.90" cy="137.49" r="1.20" fill="#000"/>
<circle cx="1201.30" cy="137.49" r="1.20" fill="#000"/>
<circle cx="1209.90" cy="141.51" r="1.20" fill="#000"/>
<circle cx="1201.30" cy="141.51" r="1.20" fill="#000"/>
<path d="M1205.15,139.50 L1204.40,134.90 L1206.80,134.90 L1206.05,139.50Z M1206.05,139.50 L1206.80,144.10 L1204.40,144.10 L1205.15,139.50Z M1205.41,139.09 L1209.40,136.40 L1210.41,138.58 L1205.79,139.91Z M1205.41,139.91 L1200.79,138.58 L1201.80,136.40 L1205.79,139.09Z M1205.79,139.09 L1210.41,140.42 L1209.40,142.60 L1205.41,139.91Z M1205.79,139.91 L1201.80,142.60 L1200.79,140.42 L1205.41,139.09Z " fill="#000"/>
<circle cx="1205.6" cy="139.5" r="0.90" fill="#000"/>
<circle cx="1222.00" cy="134.90" r="1.20" fill="#000"/>
<circle cx="1222.00" cy="144.10" r="1.20" fill="#000"/>
<circle cx="1226.30" cy="137.49" r="1.20" fill="#000"/>
<circle cx="1217.70" cy="137.49" r="1.20" fill="#000"/>
<circle cx="1226.30" cy="141.51" r="1.20" fill="#000"/>
<circle cx="1217.70" cy="141.51" r="1.20" fill="#000"/>
<path d="M1221.55,139.50 L1220.80,134.90 L1223.20,134.90 L1222.45,139.50Z M1222.45,139.50 L1223.20,144.10 L1220.80,144.10 L1221.55,139.50Z M1221.81,139.09 L1225.80,136.40 L1226.81,138.58 L1222.19,139.91Z M1221.81,139.91 L1217.19,138.58 L1218.20,136.40 L1222.19,139.09Z M1222.19,139.09 L1226.81,140.42 L1225.80,142.60 L1221.81,139.91Z M1222.19,139.91 L1218.20,142.60 L1217.19,140.42 L1221.81,139.09Z " fill="#000"/>
<circle cx="1222" cy="139.5" r="0.90" fill="#000"/>
<rect x="1084.6" y="219.6" width="93.6" height="47.9" fill="#fff" stroke="#000" stroke-width="2"/>
<line x1="1091.2" y1="235.8" x2="1131.2" y2="235.8" stroke="#000" stroke-width="2.8" stroke-linecap="butt"/>
<ellipse cx="1110.9" cy="235.8" rx="7.6" ry="6.3" fill="#fff" stroke="#000" stroke-width="2.2"/>
<line x1="1091.2" y1="257.5" x2="1131.2" y2="257.5" stroke="#c49a02" stroke-width="2.8" stroke-linecap="butt"/>
<ellipse cx="1110.9" cy="256.3" rx="8.4" ry="6.8" fill="#ffd966" stroke="#c49a02" stroke-width="1.5"/>
<text x="1134.00" y="239.10" font-family="'Liberation Serif', serif" font-size="21.98" textLength="33.42" lengthAdjust="spacingAndGlyphs" fill="#000" >WT</text>
<text x="1135.89" y="259.80" font-family="'Liberation Serif', serif" font-size="22.59" font-style="italic" textLength="34.52" lengthAdjust="spacingAndGlyphs" fill="#000" >mgl</text>
<text x="562.53" y="62.30" font-family="'Liberation Sans', sans-serif" font-size="23.37" textLength="26.10" lengthAdjust="spacingAndGlyphs" fill="#000" >22</text>
<ellipse cx="600.05" cy="48.35" rx="3.2" ry="3.6" fill="none" stroke="#222" stroke-width="1.25"/>
<text x="605.62" y="62.30" font-family="'Liberation Sans', sans-serif" font-size="23.37" textLength="14.10" lengthAdjust="spacingAndGlyphs" fill="#000" >C</text>
<text x="576.40" y="132.50" font-family="'Liberation Sans', sans-serif" font-size="23.80" textLength="26.65" lengthAdjust="spacingAndGlyphs" fill="#000" >27</text>
<ellipse cx="614.0" cy="118.35" rx="3.2" ry="3.6" fill="none" stroke="#222" stroke-width="1.25"/>
<text x="619.21" y="132.50" font-family="'Liberation Sans', sans-serif" font-size="23.80" textLength="14.33" lengthAdjust="spacingAndGlyphs" fill="#000" >C</text>
<text x="1221.91" y="67.80" font-family="'Liberation Sans', sans-serif" font-size="23.37" textLength="26.43" lengthAdjust="spacingAndGlyphs" fill="#000" >22</text>
<ellipse cx="1259.45" cy="54.05" rx="3.2" ry="3.6" fill="none" stroke="#222" stroke-width="1.25"/>
<text x="1264.68" y="67.80" font-family="'Liberation Sans', sans-serif" font-size="23.37" textLength="14.67" lengthAdjust="spacingAndGlyphs" fill="#000" >C</text>
<text x="1239.63" y="124.70" font-family="'Liberation Sans', sans-serif" font-size="24.09" textLength="26.10" lengthAdjust="spacingAndGlyphs" fill="#000" >27</text>
<ellipse cx="1276.9" cy="110.35" rx="3.2" ry="3.6" fill="none" stroke="#222" stroke-width="1.25"/>
<text x="1282.34" y="124.70" font-family="'Liberation Sans', sans-serif" font-size="24.09" textLength="13.88" lengthAdjust="spacingAndGlyphs" fill="#000" >C</text>
</svg>
</body></html>
